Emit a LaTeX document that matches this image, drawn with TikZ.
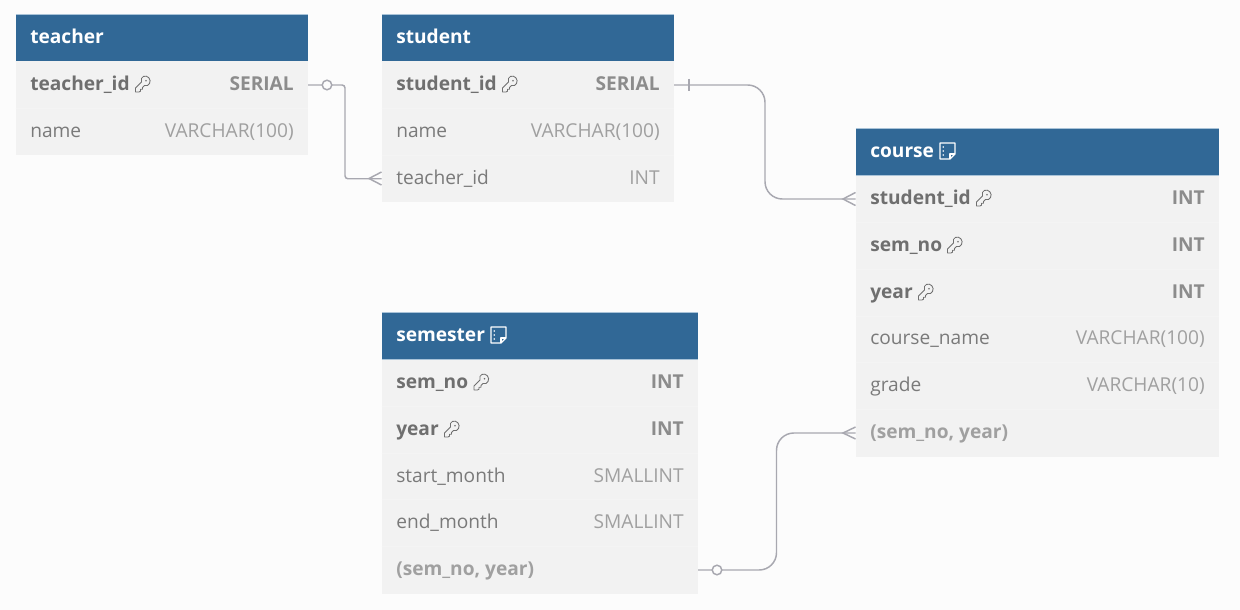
\documentclass[tikz,border=0pt]{standalone}
\usepackage{fontspec}
\setmainfont{Open Sans}
\usetikzlibrary{calc}
\definecolor{bgc}{HTML}{FCFCFC}
\definecolor{headc}{HTML}{316896}
\definecolor{headedge}{HTML}{A9C3D8}
\definecolor{rowc}{HTML}{F2F2F2}
\definecolor{rowedge}{HTML}{F4F4F4}
\definecolor{linec}{HTML}{A8A8B0}
\definecolor{pkc}{HTML}{6F6F6F}
\definecolor{pktype}{HTML}{8C8C8C}
\definecolor{namec}{HTML}{7A7A7A}
\definecolor{typec}{HTML}{A0A0A0}
\definecolor{idxc}{HTML}{A0A0A0}
\tikzset{
  x=0.75pt,y=-0.75pt,
  headbox/.style={fill=headc,draw=none,inner sep=0pt,outer sep=0pt,anchor=north west},
  rowbox/.style={fill=rowc,draw=none,inner sep=0pt,outer sep=0pt,anchor=north west},
  title/.style={font=\fontsize{14.35}{16}\selectfont\bfseries,text=white,inner sep=0pt,anchor=base west},
  pkname/.style={font=\fontsize{14.35}{16}\selectfont\bfseries,text=pkc,inner sep=0pt,anchor=base west},
  pktypen/.style={font=\fontsize{14.35}{16}\selectfont\bfseries,text=pktype,inner sep=0pt,anchor=base east},
  plainname/.style={font=\fontsize{14.35}{16}\selectfont,text=namec,inner sep=0pt,anchor=base west},
  plaintype/.style={font=\fontsize{14.35}{16}\selectfont,text=typec,inner sep=0pt,anchor=base east},
  idxname/.style={font=\fontsize{14.35}{16}\selectfont\bfseries,text=idxc,inner sep=0pt,anchor=base west},
  conn/.style={draw=linec,line width=1.1pt},
  ringmark/.style={draw=linec,fill=bgc,line width=1.1pt,circle,minimum size=7.2pt,inner sep=0pt},
  keyicon/.pic={
    \draw[pkc,line width=0.65pt,line join=round] (-7.5,8) -- (-7.5,4) -- (-1.5,-2) .. controls (-3.2,-8) and (3,-9.5) .. (5.8,-6.3)
      .. controls (9,-3) and (6,3.2) .. (1.5,1.5) -- (-0.5,3.5) -- (-0.5,5.2) -- (-2.5,5.2) -- (-2.5,7.2) -- (-4,8) -- cycle;
    \fill[pkc] (3,-3.2) circle (0.9);
  },
  noteicon/.pic={
    \draw[white,line width=1.05pt,line join=round] (-7.5,-8) -- (7.5,-8) -- (7.5,3) -- (2.5,8) -- (-7.5,8) -- cycle;
    \draw[white,line width=1.05pt,line join=round] (7.5,3) -- (2.5,3) -- (2.5,8);
    \fill[white] (-4.2,-4) circle (0.85) (-4.2,0) circle (0.85) (-4.2,4) circle (0.85);
  },
}
% #1 node name, #2 left, #3 top, #4 width, #5 height
\newcommand{\headcell}[6]{%
  \node[headbox,minimum width=#4*0.75pt,minimum height=#5*0.75pt] (#1) at (#2,#3) {};
  \draw[headedge,line width=0.75pt] (#1.north west) -- (#1.north east);
  \draw[headedge,line width=0.75pt] (#1.south west) -- (#1.south east);
  \node[title] (#1-t) at (#2+14.5,#3+28.5) {#6};
}
\newcommand{\rowcell}[5]{%
  \node[rowbox,minimum width=#4*0.75pt,minimum height=#5*0.75pt] (#1) at (#2,#3) {};
}
\begin{document}
\begin{tikzpicture}
\useasboundingbox (0,0) rectangle (1240,610);
\fill[bgc] (0,0) rectangle (1240,610);

% teacher
\headcell{teacher}{15.5}{15}{292.5}{46.5}{teacher}
\rowcell{teacher-id}{15.5}{61.5}{292.5}{47}{}
\rowcell{teacher-name}{15.5}{108.5}{292.5}{46.5}{}
\draw[rowedge,line width=0.75pt] (teacher-name.north west) -- (teacher-name.north east);
\node[pkname] (t1n) at (30,90.5) {teacher\_id};
\pic at (143,84) {keyicon};
\node[pktypen] (t1t) at (294,90.5) {SERIAL};
\node[plainname] (t2n) at (30,137.5) {name};
\node[plaintype] (t2t) at (294,137.5) {VARCHAR(100)};

% student
\headcell{student}{381.5}{15}{292.5}{46.5}{student}
\rowcell{student-id}{381.5}{61.5}{292.5}{47}{}
\rowcell{student-name}{381.5}{108.5}{292.5}{47}{}
\rowcell{student-teacher}{381.5}{155.5}{292.5}{46.5}{}
\draw[rowedge,line width=0.75pt] (student-name.north west) -- (student-name.north east);
\draw[rowedge,line width=0.75pt] (student-teacher.north west) -- (student-teacher.north east);
\node[pkname] (s1n) at (396,90.5) {student\_id};
\pic at (510,84) {keyicon};
\node[pktypen] (s1t) at (660,90.5) {SERIAL};
\node[plainname] (s2n) at (396,137.5) {name};
\node[plaintype] (s2t) at (660,137.5) {VARCHAR(100)};
\node[plainname] (s3n) at (396,184.5) {teacher\_id};
\node[plaintype] (s3t) at (660,184.5) {INT};

% course
\headcell{course}{855.5}{129}{363.5}{46.5}{course}
\pic at (947.5,151) {noteicon};
\rowcell{course-sid}{855.5}{175.5}{363.5}{47}{}
\rowcell{course-sem}{855.5}{222.5}{363.5}{47}{}
\rowcell{course-year}{855.5}{269.5}{363.5}{46.5}{}
\rowcell{course-name}{855.5}{316}{363.5}{46.5}{}
\rowcell{course-grade}{855.5}{362.5}{363.5}{47}{}
\rowcell{course-idx}{855.5}{409.5}{363.5}{47}{}
\foreach \r in {sem,year,name,grade,idx}
  \draw[rowedge,line width=0.75pt] (course-\r.north west) -- (course-\r.north east);
\node[pkname] (c1n) at (870,204.5) {student\_id};
\pic at (984,198) {keyicon};
\node[pktypen] (c1t) at (1205,204.5) {INT};
\node[pkname] (c2n) at (870,251.5) {sem\_no};
\pic at (955,245) {keyicon};
\node[pktypen] (c2t) at (1205,251.5) {INT};
\node[pkname] (c3n) at (870,298.5) {year};
\pic at (926,292) {keyicon};
\node[pktypen] (c3t) at (1205,298.5) {INT};
\node[plainname] (c4n) at (870,344.5) {course\_name};
\node[plaintype] (c4t) at (1205,344.5) {VARCHAR(100)};
\node[plainname] (c5n) at (870,391.5) {grade};
\node[plaintype] (c5t) at (1205,391.5) {VARCHAR(10)};
\node[idxname] (c6n) at (870,438.5) {(sem\_no, year)};

% semester
\headcell{semester}{381.5}{312.5}{316.5}{47}{semester}
\pic at (498.5,335) {noteicon};
\rowcell{sem-no}{381.5}{359.5}{316.5}{47}{}
\rowcell{sem-year}{381.5}{406.5}{316.5}{46.5}{}
\rowcell{sem-start}{381.5}{453}{316.5}{46.5}{}
\rowcell{sem-end}{381.5}{499.5}{316.5}{47}{}
\rowcell{sem-idx}{381.5}{546.5}{316.5}{47}{}
\foreach \r in {year,start,end,idx}
  \draw[rowedge,line width=0.75pt] (sem-\r.north west) -- (sem-\r.north east);
\node[pkname] (m1n) at (396,388.5) {sem\_no};
\pic at (481.5,382) {keyicon};
\node[pktypen] (m1t) at (684,388.5) {INT};
\node[pkname] (m2n) at (396,435.5) {year};
\pic at (452,429) {keyicon};
\node[pktypen] (m2t) at (684,435.5) {INT};
\node[plainname] (m3n) at (396,482.5) {start\_month};
\node[plaintype] (m3t) at (684,482.5) {SMALLINT};
\node[plainname] (m4n) at (396,528.5) {end\_month};
\node[plaintype] (m4t) at (684,528.5) {SMALLINT};
\node[idxname] (m5n) at (396,575.5) {(sem\_no, year)};

% connectors
\draw[conn,rounded corners=2.2pt] (teacher-id.east) -- (345,85) -- (345,178.75) -- (student-teacher.west);
\node[ringmark] (ring1) at (327,85) {};
\draw[conn] (381.5,172) -- (369,178.5) -- (381.5,185);

\draw[conn,rounded corners=13pt] (student-id.east) -- (765,85) -- (765,199) -- (course-sid.west);
\draw[conn] (689,79) -- (689,91);
\draw[conn] (855.5,192.5) -- (843,199) -- (855.5,205.5);

\draw[conn,rounded corners=13pt] (sem-idx.east) -- (776.5,570) -- (776.5,433) -- (course-idx.west);
\node[ringmark] (ring2) at (717,570) {};
\draw[conn] (855.5,427) -- (843,433) -- (855.5,439);
\end{tikzpicture}
\end{document}
